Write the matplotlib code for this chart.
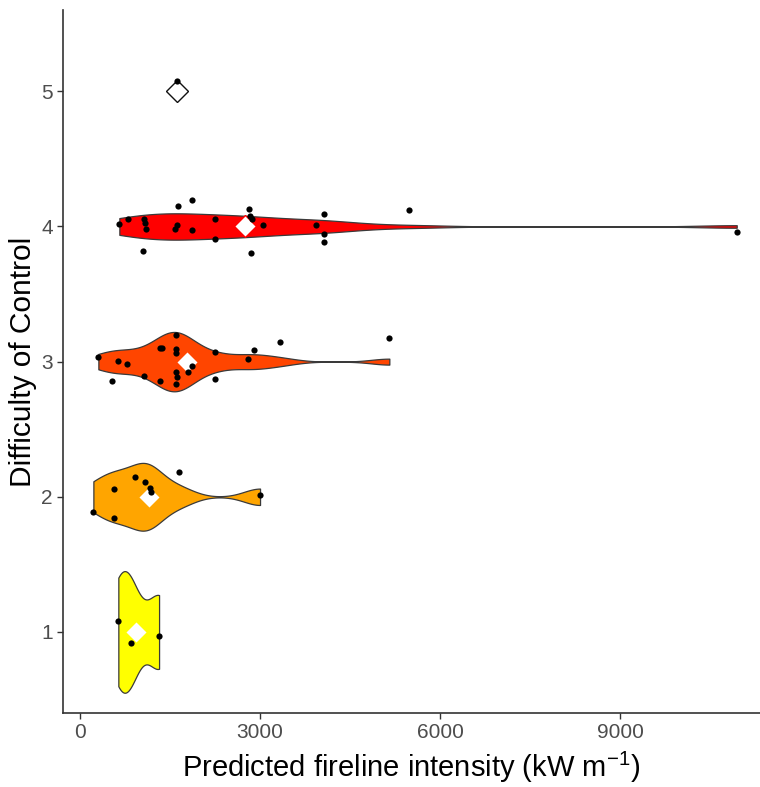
import matplotlib
matplotlib.use('Agg')
import numpy as np
import matplotlib.pyplot as plt
from matplotlib import mlab

plt.rcParams['font.family'] = ['Liberation Sans', 'DejaVu Sans']
plt.rcParams['mathtext.fontset'] = 'custom'
plt.rcParams['mathtext.rm'] = 'Liberation Sans'
plt.rcParams['mathtext.it'] = 'Liberation Sans:italic'
plt.rcParams['mathtext.default'] = 'rm'

# difficulty of control classes and their fill colours
levels = [1, 2, 3, 4, 5]
fills = ['#FFFF00', '#FFA500', '#FF4500', '#FF0000', '#FFFFFF']

# predicted fireline intensity (kW/m) per class
fi_1 = [638, 845, 1317]
fi_2 = [222, 567, 567, 922, 1078, 1172, 1178, 1650, 3000]
fi_3 = [305, 638, 788, 538, 1067, 1333, 1362, 1333, 1600, 1600, 1600, 1600,
        1622, 1600, 1805, 1862, 2255, 2255, 2805, 2905, 3338, 5155]
fi_4 = [655, 805, 1072, 1083, 1100, 1055, 1628, 1867, 1612, 1588, 1867, 2255,
        2255, 2812, 2833, 2862, 3045, 2850, 4067, 3933, 4067, 4067, 5489, 10945]
fi_5 = [1611]

# jittered class positions of the points
jit_1 = [1.084, 0.916, 0.968]
jit_2 = [1.884, 2.057, 1.844, 2.150, 2.113, 2.064, 2.039, 2.185, 2.010]
jit_3 = [3.032, 3.002, 2.985, 2.854, 2.891, 3.101, 3.101, 2.854, 3.195, 3.094,
         3.064, 2.921, 2.884, 2.835, 2.924, 2.965, 3.072, 2.872, 3.020, 3.089,
         3.148, 3.178]
jit_4 = [4.020, 4.054, 4.057, 4.027, 3.978, 3.817, 4.148, 4.195, 4.010, 3.983,
         3.973, 4.054, 3.904, 4.126, 4.076, 4.052, 4.010, 3.807, 4.089, 4.010,
         3.948, 3.887, 4.124, 3.956]
jit_5 = [5.075]

fi = [fi_1, fi_2, fi_3, fi_4, fi_5]
jit = [jit_1, jit_2, jit_3, jit_4, jit_5]


def nrd0(x):
    # R's default bandwidth rule
    x = np.asarray(x, float)
    sd = x.std(ddof=1)
    q75, q25 = np.percentile(x, [75, 25])
    return 0.9 * min(sd, (q75 - q25) / 1.34) * len(x) ** -0.2


def bw(kde):
    d = kde.dataset[0]
    return nrd0(d) / d.std(ddof=1)


# only classes with more than one value get a violin
vi = [i for i, d in enumerate(fi) if len(d) > 1]
peaks = []
for i in vi:
    kde = mlab.GaussianKDE(fi[i], bw_method=bw)
    grid = np.linspace(min(fi[i]), max(fi[i]), 512)
    peaks.append(kde.evaluate(grid).max())
# equal-area scaling, widest violin spans 0.9
widths = [0.9 * p / max(peaks) for p in peaks]

fig = plt.figure(figsize=(7.6, 7.87), dpi=100)
ax = fig.add_axes([0.083, 0.094, 0.917, 0.893])

vp = ax.violinplot([fi[i] for i in vi], positions=[levels[i] for i in vi],
                   widths=widths, orientation='horizontal', bw_method=bw,
                   points=512, showextrema=False)
for body, i in zip(vp['bodies'], vi):
    body.set_facecolor(fills[i])
    body.set_edgecolor('#3a3a3a')
    body.set_linewidth(0.9)
    body.set_alpha(1)
    body.set_zorder(1)

# class means
for i, lv in enumerate(levels):
    edge = '#111111' if i == 4 else fills[i]
    ax.plot(np.mean(fi[i]), lv, marker='D', ms=11, mfc='white', mec=edge,
            mew=1.0, ls='none', zorder=2)

for i in range(len(levels)):
    ax.scatter(fi[i], jit[i], s=20, c='black', linewidths=0, zorder=3)

ax.set_xlim(-283, 11333)
ax.set_ylim(0.4, 5.6)
ax.set_xticks([0, 3000, 6000, 9000])
ax.set_yticks(levels)
for s in ['top', 'right']:
    ax.spines[s].set_visible(False)
for s in ['left', 'bottom']:
    ax.spines[s].set_color('#333333')
    ax.spines[s].set_linewidth(1.2)
ax.tick_params(color='#333333', labelcolor='#4D4D4D', length=4, width=1,
               labelsize=15)
ax.set_xlabel('Predicted fireline intensity (kW m$^{-1}$)', fontsize=21,
              labelpad=5)
ax.set_ylabel('Difficulty of Control', fontsize=21.5, labelpad=3)

fig.savefig('out.png', dpi=100)
